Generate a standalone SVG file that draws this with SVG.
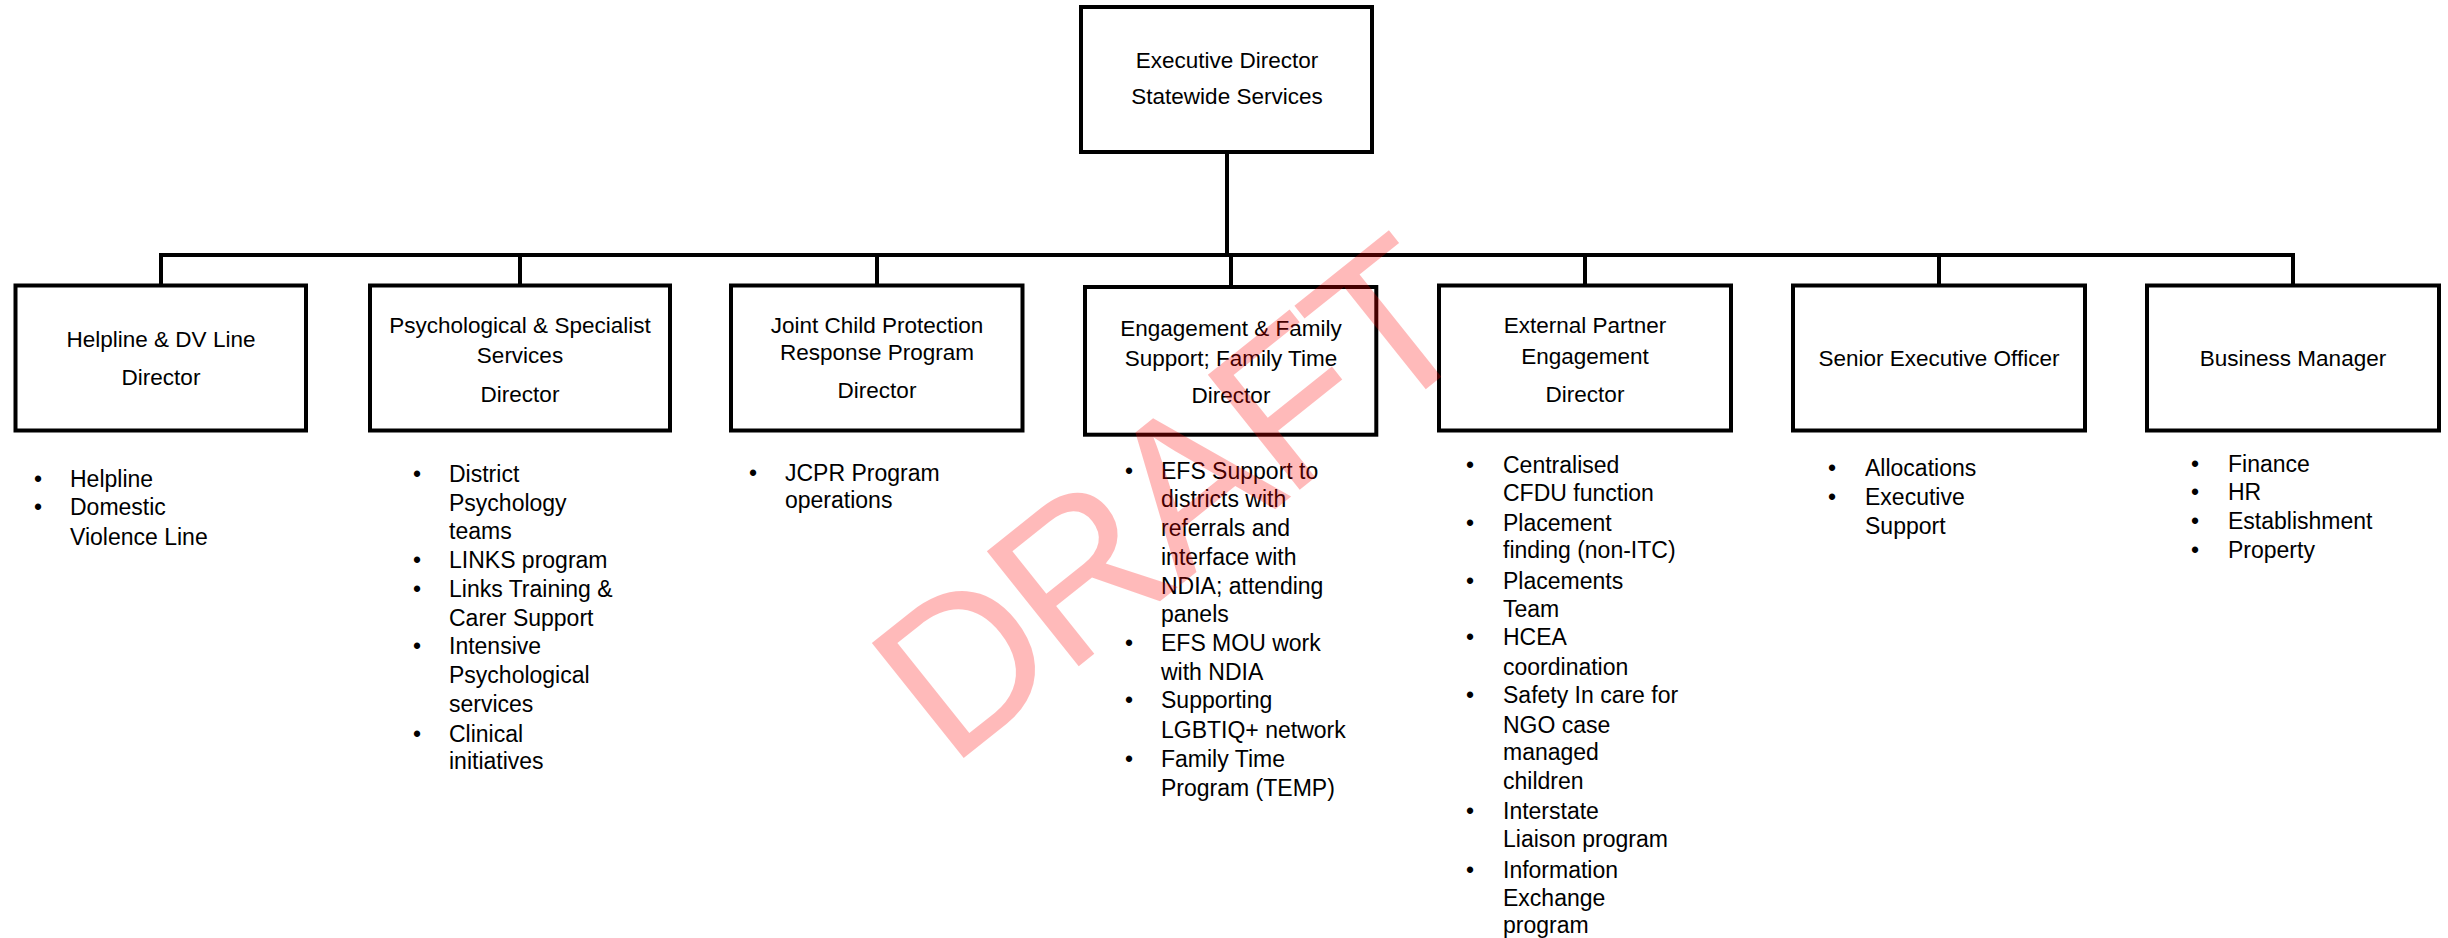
<svg xmlns="http://www.w3.org/2000/svg" width="2448" height="938" viewBox="0 0 2448 938">
<style>
.box{fill:#fff;stroke:#000;stroke-width:4}
.conn{stroke:#000;stroke-width:4;fill:none}
text{font-family:"Liberation Sans",Arial,sans-serif;fill:#000}
.h{font-size:22.5px;text-anchor:middle}
.i{font-size:23px}
.b{font-size:23px;text-anchor:middle}
.wm{font-family:"Liberation Sans",Arial,sans-serif;font-size:214px;fill:#ff0000;fill-opacity:0.27}
</style>
<rect width="2448" height="938" fill="#fff"/>
<g id="connectors">
<path class="conn" d="M1227 153V255"/>
<path class="conn" d="M159 255H2295"/>
<path class="conn" d="M161 255V285"/>
<path class="conn" d="M520 255V285"/>
<path class="conn" d="M877 255V285"/>
<path class="conn" d="M1231 255V287"/>
<path class="conn" d="M1585 255V285"/>
<path class="conn" d="M1939 255V285"/>
<path class="conn" d="M2293 255V285"/>
</g>
<g id="exec">
<rect class="box" x="1081" y="7" width="291" height="145"/>
<text class="h" x="1227" y="68">Executive Director</text>
<text class="h" x="1227" y="104">Statewide Services</text>
</g>
<g id="helpline">
<rect class="box" x="15.5" y="285.5" width="290.5" height="145"/>
<text class="h" x="161" y="347">Helpline &amp; DV Line</text>
<text class="h" x="161" y="385">Director</text>
<text class="b" x="38" y="487">•</text><text class="i" x="70" y="487">Helpline</text>
<text class="b" x="38" y="515">•</text><text class="i" x="70" y="515">Domestic</text>
<text class="i" x="70" y="545">Violence Line</text>
</g>
<g id="psych">
<rect class="box" x="370" y="285.5" width="300" height="145"/>
<text class="h" x="520" y="333">Psychological &amp; Specialist</text>
<text class="h" x="520" y="363">Services</text>
<text class="h" x="520" y="402">Director</text>
<text class="b" x="417" y="482">•</text><text class="i" x="449" y="482">District</text>
<text class="i" x="449" y="511">Psychology</text>
<text class="i" x="449" y="539">teams</text>
<text class="b" x="417" y="568">•</text><text class="i" x="449" y="568">LINKS program</text>
<text class="b" x="417" y="597">•</text><text class="i" x="449" y="597">Links Training &amp;</text>
<text class="i" x="449" y="626">Carer Support</text>
<text class="b" x="417" y="654">•</text><text class="i" x="449" y="654">Intensive</text>
<text class="i" x="449" y="683">Psychological</text>
<text class="i" x="449" y="712">services</text>
<text class="b" x="417" y="742">•</text><text class="i" x="449" y="742">Clinical</text>
<text class="i" x="449" y="769">initiatives</text>
</g>
<g id="jcpr">
<rect class="box" x="731" y="285.5" width="291.5" height="145"/>
<text class="h" x="877" y="333">Joint Child Protection</text>
<text class="h" x="877" y="360">Response Program</text>
<text class="h" x="877" y="398">Director</text>
<text class="b" x="753" y="481">•</text><text class="i" x="785" y="481">JCPR Program</text>
<text class="i" x="785" y="508">operations</text>
</g>
<g id="engagement">
<rect class="box" x="1085" y="287" width="291.3" height="147.7"/>
<text class="h" x="1231" y="336">Engagement &amp; Family</text>
<text class="h" x="1231" y="366">Support; Family Time</text>
<text class="h" x="1231" y="403">Director</text>
<text class="b" x="1129" y="479">•</text><text class="i" x="1161" y="479">EFS Support to</text>
<text class="i" x="1161" y="507">districts with</text>
<text class="i" x="1161" y="536">referrals and</text>
<text class="i" x="1161" y="565">interface with</text>
<text class="i" x="1161" y="594">NDIA; attending</text>
<text class="i" x="1161" y="622">panels</text>
<text class="b" x="1129" y="651">•</text><text class="i" x="1161" y="651">EFS MOU work</text>
<text class="i" x="1161" y="680">with NDIA</text>
<text class="b" x="1129" y="708">•</text><text class="i" x="1161" y="708">Supporting</text>
<text class="i" x="1161" y="738">LGBTIQ+ network</text>
<text class="b" x="1129" y="767">•</text><text class="i" x="1161" y="767">Family Time</text>
<text class="i" x="1161" y="796">Program (TEMP)</text>
</g>
<g id="external">
<rect class="box" x="1439" y="285.5" width="292" height="145"/>
<text class="h" x="1585" y="333">External Partner</text>
<text class="h" x="1585" y="364">Engagement</text>
<text class="h" x="1585" y="402">Director</text>
<text class="b" x="1470" y="473">•</text><text class="i" x="1503" y="473">Centralised</text>
<text class="i" x="1503" y="501">CFDU function</text>
<text class="b" x="1470" y="531">•</text><text class="i" x="1503" y="531">Placement</text>
<text class="i" x="1503" y="558">finding (non-ITC)</text>
<text class="b" x="1470" y="589">•</text><text class="i" x="1503" y="589">Placements</text>
<text class="i" x="1503" y="617">Team</text>
<text class="b" x="1470" y="645">•</text><text class="i" x="1503" y="645">HCEA</text>
<text class="i" x="1503" y="675">coordination</text>
<text class="b" x="1470" y="703">•</text><text class="i" x="1503" y="703">Safety In care for</text>
<text class="i" x="1503" y="733">NGO case</text>
<text class="i" x="1503" y="760">managed</text>
<text class="i" x="1503" y="789">children</text>
<text class="b" x="1470" y="819">•</text><text class="i" x="1503" y="819">Interstate</text>
<text class="i" x="1503" y="847">Liaison program</text>
<text class="b" x="1470" y="878">•</text><text class="i" x="1503" y="878">Information</text>
<text class="i" x="1503" y="906">Exchange</text>
<text class="i" x="1503" y="933">program</text>
</g>
<g id="senior">
<rect class="box" x="1793" y="285.5" width="292" height="145"/>
<text class="h" x="1939" y="366">Senior Executive Officer</text>
<text class="b" x="1832" y="476">•</text><text class="i" x="1865" y="476">Allocations</text>
<text class="b" x="1832" y="505">•</text><text class="i" x="1865" y="505">Executive</text>
<text class="i" x="1865" y="534">Support</text>
</g>
<g id="business">
<rect class="box" x="2147" y="285.5" width="292" height="145"/>
<text class="h" x="2293" y="366">Business Manager</text>
<text class="b" x="2195" y="472">•</text><text class="i" x="2228" y="472">Finance</text>
<text class="b" x="2195" y="500">•</text><text class="i" x="2228" y="500">HR</text>
<text class="b" x="2195" y="529">•</text><text class="i" x="2228" y="529">Establishment</text>
<text class="b" x="2195" y="558">•</text><text class="i" x="2228" y="558">Property</text>
</g>
<text class="wm" transform="translate(950,769) rotate(-38.6)" textLength="684">DRAFT</text>
</svg>
